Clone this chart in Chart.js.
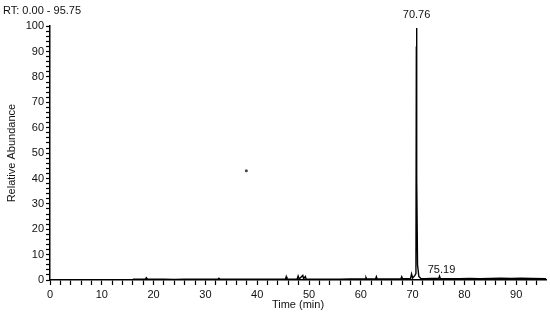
<!DOCTYPE html>
<html>
<head>
<meta charset="utf-8">
<script src="https://cdn.jsdelivr.net/npm/chart.js@4.4.1/dist/chart.umd.min.js"></script>
<style>
  html, body { margin: 0; padding: 0; background: #fff; }
  #wrap { width: 550px; height: 314px; }
</style>
</head>
<body>
<div id="wrap"><canvas id="chromatogram"></canvas></div>
<script>
// Chromatogram data
const times = [
    16.0, 17.0, 18.4, 18.6, 18.8, 20.5, 22.0, 24.0, 26.0, 28.0,
    30.0, 32.4, 32.6, 32.8, 35.0, 37.0, 39.0, 41.0, 43.0, 45.45,
    45.6, 45.75, 47.7, 47.9, 48.1, 48.8, 48.95, 49.3, 49.45, 52.0,
    54.0, 56.0, 58.0, 60.0, 60.85, 61.0, 61.15, 62.85, 63.0, 63.15,
    65.0, 67.75, 67.9, 68.05, 69.6, 69.8, 70.0, 70.45, 70.64, 70.72,
    70.76, 70.82, 70.95, 71.2, 71.6, 72.5, 73.5, 75.05, 75.19, 75.35,
    77.0, 79.0, 81.0, 83.0, 85.0, 87.0, 89.0, 91.0, 93.0, 95.75
];
const abundance = [
    0.3, 0.3, 0.3, 0.9, 0.3, 0.3, 0.3, 0.2, 0.3, 0.3,
    0.3, 0.3, 0.7, 0.3, 0.3, 0.3, 0.3, 0.3, 0.3, 0.3,
    1.3, 0.3, 0.3, 1.6, 0.4, 1.8, 0.5, 1.4, 0.3, 0.3,
    0.3, 0.3, 0.4, 0.4, 0.4, 1.0, 0.4, 0.4, 1.3, 0.4,
    0.4, 0.5, 1.3, 0.5, 0.6, 2.4, 0.8, 1.8, 2.5, 92,
    99.3, 40, 6, 1.4, 0.6, 0.5, 0.6, 0.6, 1.5, 0.6,
    0.5, 0.5, 0.6, 0.5, 0.6, 0.7, 0.6, 0.7, 0.6, 0.5
];
const strayTime = [37.9];
const strayValue = [43];
const peakLabels = ['70.76', '75.19'];
const peakTimes = [70.76, 75.19];
const peakLabelY = [100, 1.5];
const xTickLabels = [0, 10, 20, 30, 40, 50, 60, 70, 80, 90];
const yTickLabels = [0, 10, 20, 30, 40, 50, 60, 70, 80, 90, 100];

const FONT = 'Liberation Sans, Arial, sans-serif';

// Peak label text above the peaks
const peakLabelPlugin = {
    id: 'peakLabels',
    afterDatasetsDraw(chart) {
        const ctx = chart.ctx;
        const xs = chart.scales.x;
        const ys = chart.scales.y;
        ctx.save();
        ctx.font = '11px ' + FONT;
        ctx.fillStyle = '#111';
        ctx.textBaseline = 'bottom';
        ctx.textAlign = 'center';
        peakLabels.forEach((txt, i) => {
            const px = xs.getPixelForValue(peakTimes[i]);
            const py = ys.getPixelForValue(peakLabelY[i]);
            if (i === 0) {
                ctx.fillText(txt, px, py - 6);
            } else {
                ctx.fillText(txt, px + 2, py - 1);
            }
        });
        ctx.restore();
    }
};

const points = times.map((t, i) => ({ x: t, y: abundance[i] }));
const stray = strayTime.map((t, i) => ({ x: t, y: strayValue[i] }));

new Chart(document.getElementById('chromatogram'), {
    type: 'line',
    data: {
        datasets: [{
            data: points,
            borderColor: '#000',
            borderWidth: 1.4,
            pointRadius: 0,
            tension: 0
        }, {
            data: stray,
            showLine: false,
            pointRadius: 1.5,
            pointBackgroundColor: '#444',
            pointBorderWidth: 0
        }]
    },
    options: {
        responsive: true,
        maintainAspectRatio: false,
        animation: false,
        layout: { padding: { left: 3, right: 2, top: 0, bottom: 0 } },
        plugins: {
            legend: { display: false },
            tooltip: { enabled: false },
            title: {
                display: true,
                text: 'RT: 0.00 - 95.75',
                align: 'start',
                color: '#111',
                font: { family: FONT, size: 11, weight: 'normal' },
                padding: { top: 4, bottom: 9 }
            }
        },
        scales: {
            x: {
                type: 'linear',
                min: 0,
                max: 95.75,
                border: { color: '#000', width: 1.5 },
                grid: {
                    drawOnChartArea: false,
                    drawTicks: true,
                    tickLength: 5,
                    tickColor: '#000',
                    tickWidth: 1.2
                },
                ticks: {
                    stepSize: 2,
                    includeBounds: false,
                    autoSkip: false,
                    maxRotation: 0,
                    padding: 3,
                    color: '#111',
                    font: { family: FONT, size: 11 },
                    callback: v => xTickLabels.includes(v) ? String(v) : ''
                },
                title: {
                    display: true,
                    text: 'Time (min)',
                    color: '#111',
                    font: { family: FONT, size: 11 },
                    padding: { top: 0, bottom: 2 }
                },
                afterFit: s => { s.height = 34; }
            },
            y: {
                min: 0,
                max: 100,
                border: { color: '#000', width: 1.5 },
                grid: {
                    drawOnChartArea: false,
                    drawTicks: true,
                    tickLength: 4,
                    tickColor: '#000',
                    tickWidth: 1.2
                },
                ticks: {
                    stepSize: 2,
                    autoSkip: false,
                    padding: 2,
                    color: '#111',
                    font: { family: FONT, size: 11 },
                    callback: v => yTickLabels.includes(v) ? String(v) : ''
                },
                title: {
                    display: true,
                    text: 'Relative Abundance',
                    color: '#111',
                    font: { family: FONT, size: 11 },
                    padding: { top: 2, bottom: 0 }
                },
                afterFit: s => { s.width = 47; }
            }
        }
    },
    plugins: [peakLabelPlugin]
});
</script>
</body>
</html>
